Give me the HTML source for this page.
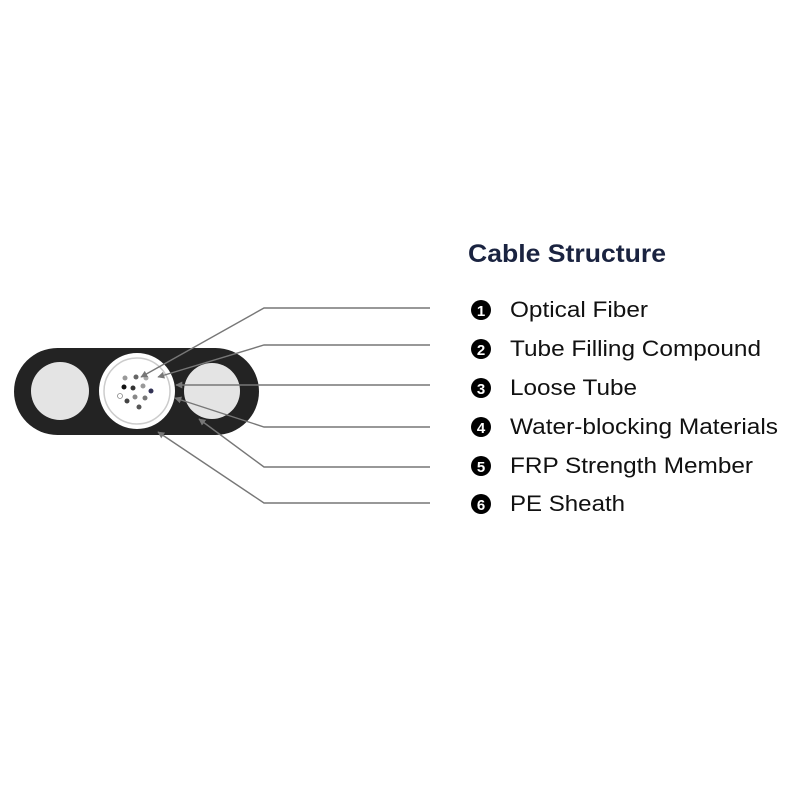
<!DOCTYPE html>
<html><head><style>
body{margin:0;background:#fff;}
svg{display:block}
</style></head><body>
<svg width="800" height="800" xmlns="http://www.w3.org/2000/svg">
<defs><marker id="a" viewBox="0 0 10 10" refX="9" refY="5" markerWidth="7" markerHeight="7" markerUnits="userSpaceOnUse" orient="auto"><path d="M0,0 L10,5 L0,10 z" fill="#777"/></marker></defs>
<rect x="14" y="348" width="245" height="87" rx="43.5" fill="#232323"/>
<circle cx="60" cy="391" r="29" fill="#e4e4e4"/>
<circle cx="212" cy="391" r="28" fill="#e4e4e4"/>
<circle cx="137" cy="391" r="38" fill="#fff"/>
<circle cx="137" cy="391" r="33" fill="none" stroke="#ccc" stroke-width="1.5"/>
<g fill="#666">
<circle cx="125" cy="378" r="2.5" fill="#999"/><circle cx="136" cy="377" r="2.5"/><circle cx="146" cy="378" r="2.5" fill="#aaa"/>
<circle cx="124" cy="387" r="2.5" fill="#111"/><circle cx="133" cy="388" r="2.5" fill="#333"/><circle cx="143" cy="386" r="2.5" fill="#999"/><circle cx="151" cy="391" r="2.5" fill="#335"/>
<circle cx="120" cy="396" r="2.5" fill="#fff" stroke="#888" stroke-width="0.8"/><circle cx="135" cy="397" r="2.5" fill="#888"/><circle cx="145" cy="398" r="2.5" fill="#777"/>
<circle cx="127" cy="401" r="2.5" fill="#444"/><circle cx="139" cy="407" r="2.5" fill="#555"/>
</g>
<g stroke="#777" stroke-width="1.4" fill="none">
<polyline points="430,308 264,308 141,377" marker-end="url(#a)"/>
<polyline points="430,345 264,345 158,377" marker-end="url(#a)"/>
<polyline points="430,385 264,385 176,385" marker-end="url(#a)"/>
<polyline points="430,427 264,427 175,398" marker-end="url(#a)"/>
<polyline points="430,467 264,467 199,419" marker-end="url(#a)"/>
<polyline points="430,503 264,503 158,432" marker-end="url(#a)"/>
</g>
<text x="468" y="262" font-family="Liberation Sans, sans-serif" font-weight="bold" font-size="25" fill="#1a2340" textLength="198" lengthAdjust="spacingAndGlyphs">Cable Structure</text>
<g font-family="Liberation Sans, sans-serif" font-size="22" fill="#111">
<circle cx="481" cy="310" r="10" fill="#000"/><text x="481" y="316" font-size="15" font-weight="bold" fill="#fff" text-anchor="middle">1</text><text x="510" y="317" textLength="138" lengthAdjust="spacingAndGlyphs">Optical Fiber</text>
<circle cx="481" cy="349" r="10" fill="#000"/><text x="481" y="355" font-size="15" font-weight="bold" fill="#fff" text-anchor="middle">2</text><text x="510" y="356" textLength="251" lengthAdjust="spacingAndGlyphs">Tube Filling Compound</text>
<circle cx="481" cy="388" r="10" fill="#000"/><text x="481" y="394" font-size="15" font-weight="bold" fill="#fff" text-anchor="middle">3</text><text x="510" y="395" textLength="127" lengthAdjust="spacingAndGlyphs">Loose Tube</text>
<circle cx="481" cy="427" r="10" fill="#000"/><text x="481" y="433" font-size="15" font-weight="bold" fill="#fff" text-anchor="middle">4</text><text x="510" y="434" textLength="268" lengthAdjust="spacingAndGlyphs">Water-blocking Materials</text>
<circle cx="481" cy="466" r="10" fill="#000"/><text x="481" y="472" font-size="15" font-weight="bold" fill="#fff" text-anchor="middle">5</text><text x="510" y="473" textLength="243" lengthAdjust="spacingAndGlyphs">FRP Strength Member</text>
<circle cx="481" cy="504" r="10" fill="#000"/><text x="481" y="510" font-size="15" font-weight="bold" fill="#fff" text-anchor="middle">6</text><text x="510" y="511" textLength="115" lengthAdjust="spacingAndGlyphs">PE Sheath</text>
</g>
</svg>
</body></html>
